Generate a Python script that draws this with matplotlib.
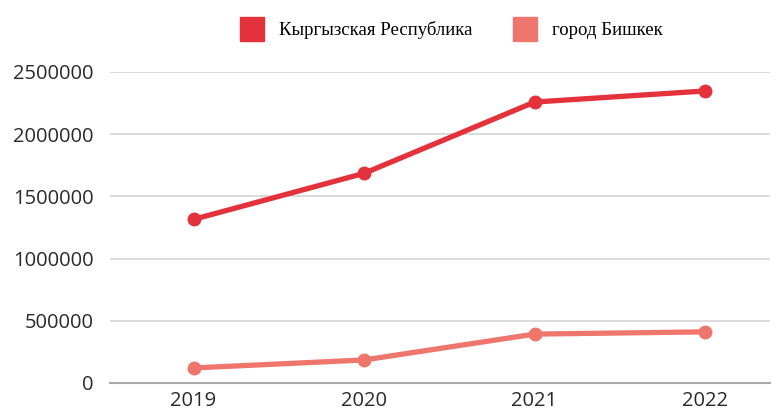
import matplotlib
matplotlib.use('Agg')
import matplotlib.pyplot as plt
from matplotlib.lines import Line2D

years = [2019, 2020, 2021, 2022]
kyrgyz = [1315000, 1685000, 2258000, 2347000]
bishkek = [121000, 185000, 393000, 411000]
labels = ['Кыргызская Республика', 'город Бишкек']
colors = ['#e3323c', '#ee766c']

fig = plt.figure(figsize=(7.8, 4.12), dpi=100)
ax = fig.add_axes([0.141, 0.0704, 0.846, 0.755])

ax.plot(years, kyrgyz, color=colors[0], lw=3.8, marker='o', ms=9, clip_on=False, zorder=3)
ax.plot(years, bishkek, color=colors[1], lw=3.8, marker='o', ms=9, clip_on=False, zorder=3)

ax.set_xlim(2018.51, 2022.38)
ax.set_ylim(0, 2500000)
ax.set_yticks([0, 500000, 1000000, 1500000, 2000000, 2500000])
ax.set_yticklabels(['0', '500000', '1000000', '1500000', '2000000', '2500000'])
ax.set_xticks(years)
ax.set_xticklabels([str(y) for y in years])
ax.tick_params(length=0, labelsize=14.5, colors='#2a2a2a', pad=12)
ax.tick_params(axis='x', pad=6)
for lab in ax.get_xticklabels() + ax.get_yticklabels():
    lab.set_family('Open Sans')

ax.grid(axis='y', color='#d6d6d6', lw=1.2)
for s in ['top', 'right', 'left']:
    ax.spines[s].set_visible(False)
ax.spines['bottom'].set_color('#aaaaaa')
ax.spines['bottom'].set_linewidth(1.5)
ax.set_axisbelow(True)

handles = [Line2D([], [], ls='', marker='s', ms=17, color=c) for c in colors]
fig.legend(handles, labels, loc='center', bbox_to_anchor=(0.574, 0.927), ncol=2,
           frameon=False, prop={'family': 'Liberation Serif', 'size': 13.5},
           handletextpad=0.45, columnspacing=1.8)

fig.savefig('out.png', dpi=100)
